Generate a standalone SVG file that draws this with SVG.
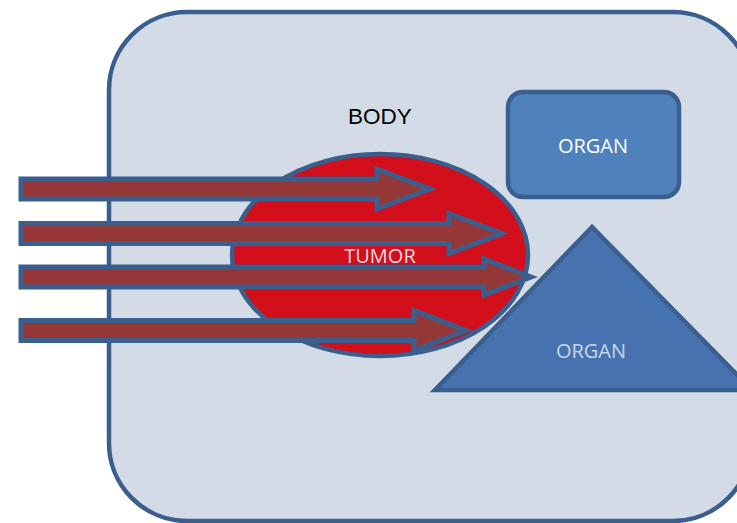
<svg xmlns="http://www.w3.org/2000/svg" width="737" height="523" viewBox="0 0 737 523">
<style>
.outline{stroke:#3a5f8f;stroke-width:4.5;stroke-linejoin:miter}
.arrow{fill:#943736;stroke:#3a5f8f;stroke-width:5;stroke-linejoin:miter;stroke-miterlimit:10}
.lbl{font-family:"Open Sans","Liberation Sans",sans-serif;font-size:20px;text-anchor:middle}
</style>
<rect width="737" height="523" fill="#ffffff"/>
<g id="body">
<rect class="outline" x="109" y="12" width="642" height="509" rx="78" ry="78" fill="#d3dce6"/>
<text x="380" y="124" font-family="'Liberation Sans',Arial,sans-serif" font-size="22.5" text-anchor="middle" fill="#000000">BODY</text>
</g>
<g id="tumor">
<ellipse class="outline" cx="380" cy="255" rx="148" ry="101" fill="#d20f1a"/>
</g>
<g id="organ-triangle">
<polygon class="outline" points="592,227 435,390 752,390" fill="#4673b0" stroke-linejoin="round"/>
<text class="lbl" x="591" y="358" fill="#c8d5e9">ORGAN</text>
</g>
<g id="organ-rect">
<rect class="outline" x="508" y="92" width="171" height="105" rx="15" ry="15" fill="#4f81bd"/>
<text class="lbl" x="593" y="153" fill="#ffffff">ORGAN</text>
</g>
<g id="connectors">
<polygon class="arrow" points="21,179 377,179 377,169 430,189 377,209 377,199 21,199"/>
<polygon class="arrow" points="21,223.5 449,223.5 449,213.5 502,233.5 449,253.5 449,243.5 21,243.5"/>
<polygon class="arrow" points="21,267 484,267 484,259 531,277 484,295 484,287 21,287"/>
<polygon class="arrow" points="21,320.5 414,320.5 414,310.5 466,330.5 414,350.5 414,340.5 21,340.5"/>
</g>
<g id="tumor-label">
<text class="lbl" x="380" y="263" fill="#e6dde4">TUMOR</text>
</g>
</svg>
